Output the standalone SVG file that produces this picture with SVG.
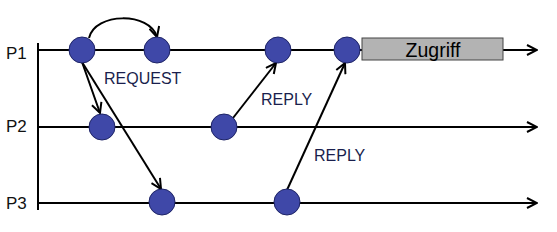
<svg xmlns="http://www.w3.org/2000/svg" width="557" height="232" viewBox="0 0 557 232">
<style>
.line{stroke:#000;stroke-width:2;fill:none}
.msg{stroke:#000;stroke-width:2;fill:none}
.node{fill:#3f48a8;stroke:#1e2466;stroke-width:1}
.lbl{font-family:"Liberation Sans",Arial,sans-serif;font-size:17px;fill:#111}
.mlbl{font-family:"Liberation Sans",Arial,sans-serif;font-size:16px;fill:#1a1f4d}
</style>
<defs>
<marker id="ah" viewBox="0 0 12 12" refX="11" refY="6" markerWidth="12" markerHeight="12" markerUnits="userSpaceOnUse" orient="auto">
<path d="M1,1 L11,6 L1,11" fill="none" stroke="#000" stroke-width="2"/>
</marker>
</defs>
<g id="axes">
<line class="line" x1="38" y1="43" x2="38" y2="210"/>
<line class="line" x1="38" y1="50" x2="537" y2="50" marker-end="url(#ah)"/>
<line class="line" x1="38" y1="127" x2="537" y2="127" marker-end="url(#ah)"/>
<line class="line" x1="38" y1="203" x2="537" y2="203" marker-end="url(#ah)"/>
<text class="lbl" x="6" y="59">P1</text>
<text class="lbl" x="6" y="132">P2</text>
<text class="lbl" x="6" y="209">P3</text>
</g>
<g id="connectors">
<path class="msg" d="M89,38 C95,12 150,12 157,37" marker-end="url(#ah)"/>
<line class="msg" x1="82" y1="62" x2="100" y2="113" marker-end="url(#ah)"/>
<line class="msg" x1="82" y1="62" x2="161" y2="189" marker-end="url(#ah)"/>
<line class="msg" x1="233" y1="118" x2="276" y2="63" marker-end="url(#ah)"/>
<line class="msg" x1="287" y1="190" x2="345" y2="63" marker-end="url(#ah)"/>
<text class="mlbl" x="104" y="84">REQUEST</text>
<text class="mlbl" x="261" y="105">REPLY</text>
<text class="mlbl" x="314" y="161">REPLY</text>
</g>
<g id="access">
<rect x="362" y="38" width="141" height="22" fill="#b3b3b3" stroke="#444" stroke-width="1"/>
<text x="433" y="57" text-anchor="middle" font-family="Liberation Sans,Arial,sans-serif" font-size="19.5" fill="#000">Zugriff</text>
</g>
<g id="n1"><circle class="node" cx="82" cy="50" r="13"/></g>
<g id="n2"><circle class="node" cx="157" cy="50" r="13"/></g>
<g id="n3"><circle class="node" cx="278" cy="50" r="13"/></g>
<g id="n4"><circle class="node" cx="347" cy="50" r="13"/></g>
<g id="n5"><circle class="node" cx="102" cy="127" r="13"/></g>
<g id="n6"><circle class="node" cx="224" cy="127" r="13"/></g>
<g id="n7"><circle class="node" cx="162" cy="202" r="13"/></g>
<g id="n8"><circle class="node" cx="287" cy="202" r="13"/></g>
</svg>
